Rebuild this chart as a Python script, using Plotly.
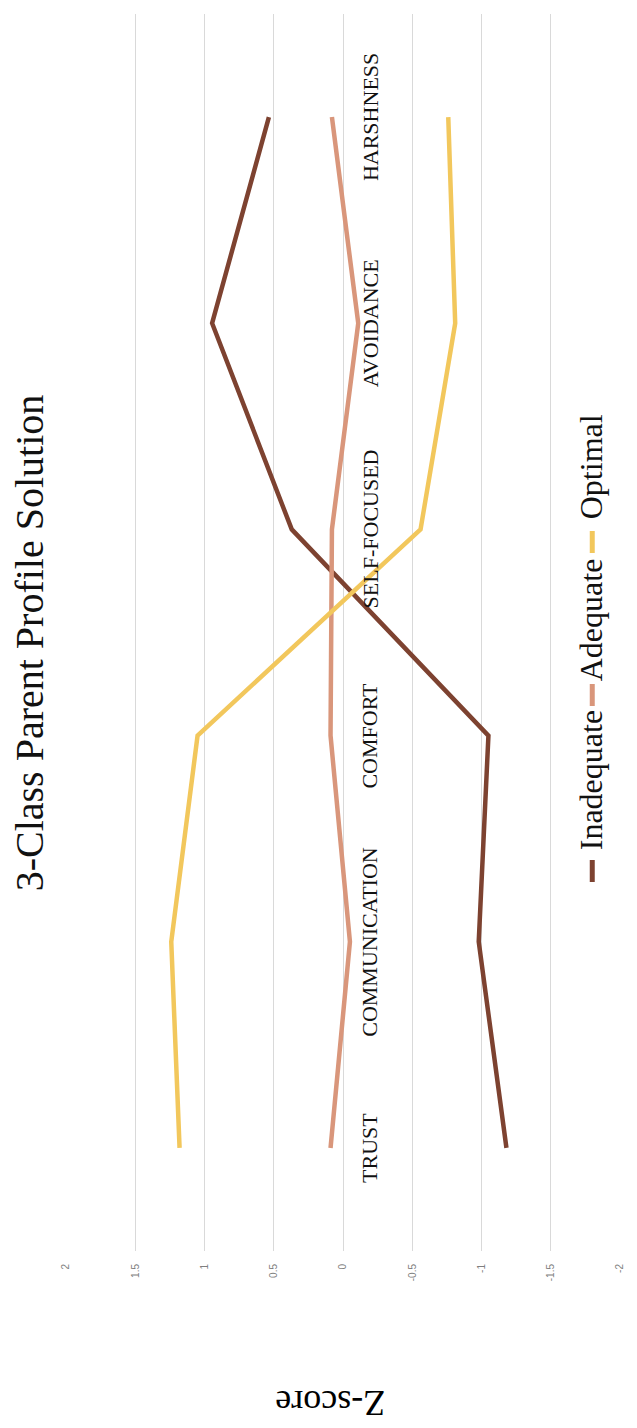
import plotly.graph_objects as go

# Profile indicators (category axis) and mean z-scores per latent class
categories = ["TRUST", "COMMUNICATION", "COMFORT", "SELF-FOCUSED", "AVOIDANCE", "HARSHNESS"]
inadequate = [-1.18, -0.98, -1.05, 0.37, 0.945, 0.535]
adequate = [0.09, -0.05, 0.09, 0.08, -0.11, 0.08]
optimal = [1.18, 1.24, 1.05, -0.56, -0.81, -0.76]

series_names = ["Inadequate", "Adequate", "Optimal"]
series_colors = ["#7D4230", "#D9967B", "#F2C75C"]
value_ticks = [2, 1.5, 1, 0.5, 0, -0.5, -1, -1.5, -2]
tick_text = ["2", "1.5", "1", "0.5", "0", "-0.5", "-1", "-1.5", "-2"]

W, H = 637, 1428
L, R, T, B = 66, 12, 14, 177
SERIF = "Liberation Serif, Times New Roman, serif"


def px_x(px):
    return (px - L) / (W - L - R)


def px_y(py):
    return (H - B - py) / (H - T - B)


fig = go.Figure()
for name, vals, col in zip(series_names, [inadequate, adequate, optimal], series_colors):
    fig.add_trace(go.Scatter(
        x=vals, y=categories, mode="lines", name=name,
        line=dict(color=col, width=4.5), showlegend=False,
    ))

annotations = []
# category labels sit beside the zero line
for c in categories:
    annotations.append(dict(
        x=0, y=c, xref="x", yref="y", text=c, showarrow=False,
        textangle=-90, xanchor="center", yanchor="middle", xshift=27,
        font=dict(family=SERIF, size=22, color="#111111"),
    ))

# title
annotations.append(dict(
    x=px_x(29), y=px_y(643), xref="paper", yref="paper",
    text="3-Class Parent Profile Solution", showarrow=False, textangle=-90,
    xanchor="center", yanchor="middle",
    font=dict(family=SERIF, size=40, color="#111111"),
))

# value axis title
annotations.append(dict(
    x=px_x(333), y=px_y(1403), xref="paper", yref="paper",
    text="Z-score", showarrow=False, textangle=180,
    xanchor="center", yanchor="middle",
    font=dict(family=SERIF, size=36, color="#000000"),
))

# legend: short swatch followed by the rotated label
shapes = []
legend_items = [
    ("Inadequate", series_colors[0], 871, 780),
    ("Adequate", series_colors[1], 695, 620),
    ("Optimal", series_colors[2], 542, 467),
]
for name, col, swatch_y, text_y in legend_items:
    shapes.append(dict(
        type="line", xref="paper", yref="paper",
        x0=px_x(597), x1=px_x(597), y0=px_y(swatch_y - 11), y1=px_y(swatch_y + 11),
        line=dict(color=col, width=5),
    ))
    annotations.append(dict(
        x=px_x(596), y=px_y(text_y), xref="paper", yref="paper",
        text=name, showarrow=False, textangle=-90,
        xanchor="center", yanchor="middle",
        font=dict(family=SERIF, size=32, color="#111111"),
    ))

fig.update_layout(
    width=W, height=H,
    margin=dict(l=L, r=R, t=T, b=B),
    paper_bgcolor="white", plot_bgcolor="white",
    annotations=annotations, shapes=shapes,
    xaxis=dict(
        range=[2, -2], tickvals=value_ticks, ticktext=tick_text,
        tickangle=-90, showgrid=True, gridcolor="#d9d9d9", gridwidth=1,
        zeroline=False, showline=False, ticks="", ticklabelstandoff=10,
        tickfont=dict(family="Liberation Sans, Arial, sans-serif", size=10, color="#7f7f7f"),
    ),
    yaxis=dict(
        type="category", categoryorder="array", categoryarray=categories,
        range=[-0.5, len(categories) - 0.5], showgrid=False, showticklabels=False,
        zeroline=False, showline=False, ticks="",
    ),
    showlegend=False,
)

fig.write_html("out.html")
